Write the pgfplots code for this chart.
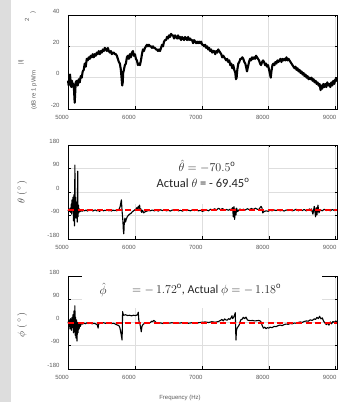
\documentclass[border=0pt]{standalone}
\usepackage{pgfplots}
\pgfplotsset{compat=1.18}
\usepackage{fontspec}
\setmainfont{Liberation Sans}
\newfontfamily\calfont{Carlito}
\definecolor{strip}{RGB}{221,221,221}
\definecolor{tlab}{RGB}{90,90,90}
\pgfplotsset{myax/.style={
  scale only axis, width=269pt, anchor=south west,
  xmin=5000, xmax=9020, xtick={5000,6000,7000,8000,9000},
  grid=major, grid style={black!13, line width=0.6pt},
  axis line style={black, line width=0.9pt},
  tick style={black, line width=0.5pt}, tick align=inside, major tick length=2.5pt,
  ticklabel style={font=\fontsize{6}{7}\selectfont, text=tlab},
  /pgf/number format/assume math mode=true, /pgf/number format/1000 sep={},
  xticklabel style={xshift=-6pt, yshift=-3pt},
  yticklabel style={xshift=-5pt, yshift=4pt},
  clip=false}}
\begin{document}
\begin{tikzpicture}
\useasboundingbox (0,0) rectangle (339pt,402pt);
\fill[strip] (0,0) rectangle (11pt,402pt);
% ---------- plot 1
\begin{axis}[myax, at={(68pt,293pt)}, height=94pt, ymin=-20, ymax=40, ytick={-20,0,20,40}]
\addplot[black, line width=2.1pt, line join=round] coordinates {
(5000,-2)(5010,-5)(5020,1)(5030,2)(5040,-3)(5050,-6)(5060,-2)(5070,-5)(5080,-4)(5090,-8)
(5100,-16)(5105,-12)(5115,-3)(5130,-2)(5145,-5)(5160,-1)(5175,-3)(5190,1)(5205,0)(5220,4)
(5235,5)(5250,9)(5265,7)(5280,12)(5295,11)(5310,13)(5325,12)(5340,14)(5355,13)(5370,15)
(5385,13)(5400,15)(5415,14)(5430,16)(5445,15)(5460,17)(5475,15)(5490,17)(5505,16)(5520,18)
(5535,17)(5550,19)(5565,18)(5580,17)(5595,19)(5610,17)(5625,16)(5640,17)(5655,15)(5670,16)
(5685,16)(5700,15)(5715,15)(5730,14)(5745,12)(5760,10)(5775,9)(5790,5)(5800,0)(5810,-5)
(5818,-3)(5825,3)(5835,5)(5850,8)(5865,9)(5880,13)(5895,14)(5910,12)(5925,15)(5940,13)
(5955,16)(5970,17)(5985,14)(6000,15)(6015,12)(6030,11)(6045,8)(6060,9)(6075,8)(6090,11)
(6105,15)(6120,18)(6135,17)(6150,19)(6165,20)(6180,21)(6195,20)(6210,21)(6225,20)(6240,20)
(6255,19)(6270,20)(6285,19)(6300,19)(6315,18)(6330,18)(6345,17)(6360,18)(6375,17)(6390,19)
(6405,21)(6420,20)(6435,23)(6450,24)(6465,24)(6480,26)(6495,25)(6510,27)(6525,26)(6540,28)
(6555,27)(6570,27)(6585,25)(6600,27)(6615,26)(6630,25)(6645,27)(6660,25)(6675,26)(6690,24)
(6705,26)(6720,25)(6735,24)(6750,26)(6765,25)(6780,24)(6795,26)(6810,24)(6825,25)(6840,24)
(6855,24)(6870,22)(6885,24)(6900,23)(6915,22)(6930,23)(6945,22)(6960,23)(6975,22)(6990,23)
(7005,21)(7020,21)(7035,20)(7050,21)(7065,19)(7080,20)(7095,18)(7110,19)(7125,17)(7140,18)
(7155,16)(7170,17)(7185,17)(7200,15)(7215,17)(7230,16)(7245,18)(7260,17)(7275,16)(7290,15)
(7305,13)(7320,14)(7335,13)(7350,12)(7365,11)(7380,12)(7395,10)(7410,11)(7425,8)(7440,9)
(7455,6)(7470,8)(7485,5)(7500,3)(7510,-1)(7520,0)(7530,5)(7545,9)(7560,10)(7575,12)
(7590,12)(7605,13)(7620,12)(7635,10)(7650,9)(7665,6)(7675,4)(7690,7)(7705,10)(7720,12)
(7735,11)(7750,13)(7765,12)(7780,13)(7795,12)(7810,14)(7825,13)(7840,12)(7855,11)(7870,9)
(7885,8)(7900,10)(7915,11)(7930,10)(7945,8)(7960,9)(7975,7)(7990,8)(8005,5)(8020,2)
(8030,0)(8040,4)(8055,8)(8070,9)(8085,8)(8100,10)(8115,9)(8130,11)(8145,10)(8160,11)
(8175,12)(8190,10)(8205,12)(8220,11)(8235,12)(8250,11)(8265,13)(8280,11)(8295,12)(8310,11)
(8325,10)(8340,9)(8355,8)(8370,7)(8385,6)(8400,7)(8415,5)(8430,6)(8445,4)(8460,5)
(8475,3)(8490,4)(8505,2)(8520,3)(8535,1)(8550,2)(8565,0)(8580,1)(8595,-1)(8610,0)
(8625,-1)(8640,0)(8655,-2)(8670,-1)(8685,-3)(8700,-2)(8715,-4)(8730,-3)(8745,-5)(8760,-4)
(8775,-8)(8785,-5)(8800,-7)(8815,-4)(8830,-6)(8845,-4)(8860,-6)(8875,-3)(8890,-5)(8905,-4)
(8920,-6)(8935,-3)(8950,-5)(8965,-2)(8980,-4)(8995,-1)(9010,-2)(9020,0)};
\end{axis}
% ---------- plot 2
\begin{axis}[myax, at={(68pt,163pt)}, height=94pt, ymin=-180, ymax=180, ytick={-180,-90,0,90,180}]
\fill[white] (axis cs:5925,-45) rectangle (axis cs:7990,176);
\addplot[black, line width=1.1pt, line join=round] coordinates {
(5000,-72)(5010,-68)(5020,-75)(5030,-62)(5040,-78)(5050,-45)(5055,-85)(5060,-30)(5068,-60)(5075,-20)
(5082,-110)(5090,-10)(5097,-130)(5103,103)(5108,-80)(5114,-20)(5120,-100)(5126,-40)(5132,-65)(5138,-115)
(5145,80)(5150,-95)(5156,-50)(5162,-80)(5170,-65)(5180,-75)(5195,-70)(5210,-74)(5230,-70)(5250,-72)
(5270,-69)(5290,-73)(5310,-70)(5330,-71)(5350,-68)(5370,-73)(5390,-70)(5410,-69)(5430,-72)(5450,-70)
(5470,-74)(5490,-71)(5510,-69)(5530,-72)(5550,-70)(5570,-71)(5590,-68)(5610,-72)(5630,-70)(5650,-73)
(5670,-69)(5690,-71)(5710,-70)(5730,-72)(5750,-68)(5765,-65)(5780,-55)(5790,-40)(5798,-30)(5805,-60)
(5812,-85)(5820,-110)(5828,-150)(5834,-160)(5840,-125)(5850,-100)(5860,-115)(5870,-105)(5885,-95)(5900,-90)
(5920,-85)(5940,-82)(5960,-76)(5980,-72)(6000,-68)(6015,-66)(6030,-60)(6040,-70)(6050,-55)(6060,-62)
(6070,-50)(6080,-72)(6090,-65)(6100,-78)(6115,-70)(6130,-80)(6150,-76)(6170,-74)(6190,-72)(6210,-71)
(6230,-72)(6260,-69)(6290,-72)(6320,-70)(6350,-73)(6380,-68)(6410,-71)(6440,-69)(6470,-72)(6500,-70)
(6530,-73)(6560,-69)(6590,-71)(6620,-68)(6650,-72)(6680,-70)(6710,-73)(6740,-69)(6770,-71)(6800,-70)
(6830,-72)(6860,-68)(6890,-71)(6920,-69)(6950,-72)(6980,-70)(7010,-74)(7040,-71)(7070,-69)(7100,-72)
(7130,-66)(7160,-70)(7190,-64)(7220,-69)(7250,-62)(7280,-68)(7310,-63)(7340,-70)(7370,-67)(7400,-70)
(7420,-66)(7440,-68)(7460,-60)(7470,-95)(7480,-56)(7490,-105)(7500,-65)(7510,-88)(7520,-62)(7535,-75)
(7550,-70)(7570,-65)(7590,-70)(7620,-66)(7650,-69)(7680,-64)(7710,-68)(7740,-63)(7770,-67)(7800,-62)
(7830,-66)(7850,-68)(7870,-60)(7885,-55)(7900,-62)(7910,-80)(7930,-75)(7960,-72)(7990,-74)(8020,-70)
(8050,-72)(8080,-69)(8110,-71)(8140,-68)(8170,-72)(8200,-70)(8230,-73)(8260,-69)(8290,-71)(8320,-68)
(8350,-72)(8380,-70)(8410,-66)(8440,-72)(8470,-68)(8500,-71)(8530,-67)(8560,-72)(8590,-69)(8610,-65)
(8630,-72)(8640,-65)(8660,-85)(8680,-55)(8700,-95)(8710,-60)(8720,-88)(8735,-50)(8750,-80)(8770,-68)
(8800,-72)(8830,-66)(8860,-71)(8890,-68)(8920,-72)(8950,-67)(8980,-71)(9000,-68)(9020,-70)};
\addplot[red, line width=1.5pt, dash pattern=on 6pt off 3.5pt] coordinates {(5000,-69.45)(9020,-69.45)};
\end{axis}
% ---------- plot 3
\begin{axis}[myax, at={(68pt,33pt)}, height=93pt, ymin=-180, ymax=180, ytick={-180,-90,0,90,180}]
\fill[white] (axis cs:5210,55) rectangle (axis cs:8790,184);
\addplot[black, line width=1.1pt, line join=round] coordinates {
(5000,-3)(5008,5)(5015,-15)(5022,10)(5030,-25)(5038,15)(5045,-10)(5052,-30)(5060,20)(5068,-20)
(5075,30)(5082,-40)(5090,45)(5097,-35)(5103,65)(5108,-50)(5114,20)(5120,-60)(5127,10)(5135,-72)
(5142,0)(5150,-40)(5158,-5)(5166,-25)(5175,-8)(5185,-15)(5200,-3)(5220,-6)(5240,-2)(5260,-5)
(5280,-1)(5300,-4)(5330,-2)(5360,-5)(5390,-3)(5420,-6)(5440,-10)(5450,-22)(5455,-8)(5470,-3)
(5500,-2)(5530,-1)(5560,-3)(5590,-1)(5620,-2)(5650,-4)(5680,-3)(5700,-5)(5720,-8)(5740,-10)
(5760,-12)(5775,-20)(5790,-40)(5800,-55)(5808,-68)(5812,-20)(5816,42)(5822,35)(5830,28)(5860,30)
(5890,27)(5920,28)(5950,26)(5980,28)(6010,27)(6040,30)(6050,40)(6058,10)(6065,0)(6075,-5)
(6085,-20)(6095,-36)(6105,-15)(6120,-8)(6140,-4)(6170,-2)(6200,-3)(6230,0)(6250,5)(6265,3)
(6280,8)(6295,6)(6310,2)(6330,-3)(6360,-1)(6390,-2)(6420,-4)(6450,-1)(6500,-3)(6550,-1)
(6600,-2)(6650,-3)(6700,-1)(6750,-2)(6800,-3)(6850,-1)(6900,-2)(6950,-1)(7000,1)(7050,2)
(7100,0)(7150,3)(7200,1)(7250,4)(7280,8)(7300,12)(7320,6)(7340,14)(7360,10)(7380,9)
(7400,15)(7420,12)(7440,20)(7450,26)(7460,15)(7475,20)(7490,30)(7500,38)(7505,-20)(7510,-68)
(7518,-30)(7530,-20)(7545,-15)(7560,-8)(7580,10)(7600,12)(7620,20)(7640,15)(7660,21)(7680,10)
(7700,8)(7730,7)(7760,8)(7790,6)(7820,7)(7850,8)(7880,5)(7900,-10)(7920,-22)(7940,-18)
(7960,-24)(7980,-20)(8000,-22)(8020,-18)(8050,-20)(8080,-15)(8110,-16)(8140,-12)(8170,-10)(8200,-12)
(8230,-8)(8260,-6)(8290,-7)(8320,-4)(8350,-5)(8380,-2)(8410,-3)(8440,0)(8470,2)(8500,0)
(8530,4)(8560,6)(8590,5)(8620,10)(8650,8)(8680,14)(8700,12)(8720,20)(8740,15)(8760,24)
(8780,14)(8800,18)(8820,5)(8840,-2)(8860,-8)(8880,-3)(8900,-10)(8920,2)(8940,-5)(8960,4)
(8980,0)(9000,6)(9020,3)};
\addplot[red, line width=1.5pt, dash pattern=on 6pt off 3.5pt] coordinates {(5000,-1.18)(9020,-1.18)};
\end{axis}
% ---------- labels
\begin{scope}[every node/.style={text=tlab, font=\fontsize{6}{7}\selectfont, inner sep=0pt}]
\node[rotate=90] at (21pt,340pt) {|I|};
\node[rotate=90] at (34pt,312pt) {(dB re 1 pW/m};
\node[rotate=90] at (27pt,382pt) {2};
\node[rotate=90] at (33pt,389pt) {)};
\node at (180pt,4pt) {Frequency (Hz)};
\end{scope}
\node[rotate=90, text=black!75, font=\fontsize{10}{12}\selectfont, inner sep=0pt] at (22pt,210pt) {$\theta\ (\,^{\circ}\,)$};
\node[rotate=90, text=black!75, font=\fontsize{10}{12}\selectfont, inner sep=0pt] at (22pt,77pt) {$\phi\ (\,^{\circ}\,)$};
\node[font=\fontsize{12}{13}\selectfont, text=black!85, inner sep=0pt] at (207pt,236pt) {$\hat{\theta} = -70.5^{\mathrm{o}}$};
\node[font=\fontsize{12.5}{13}\selectfont\calfont, text=black!85, inner sep=0pt] at (203pt,219pt) {Actual $\theta$ = - 69.45\textsuperscript{o}};
\node[font=\fontsize{12}{13}\selectfont, text=black!85, inner sep=0pt] at (103pt,112pt) {$\hat{\phi}$};
\node[font=\fontsize{12}{13}\selectfont\calfont, text=black!85, inner sep=0pt, anchor=west] at (132pt,112pt) {$= -\,1.72^{\mathrm{o}}$, Actual $\phi = -\,1.18^{\mathrm{o}}$};
\end{tikzpicture}
\end{document}
